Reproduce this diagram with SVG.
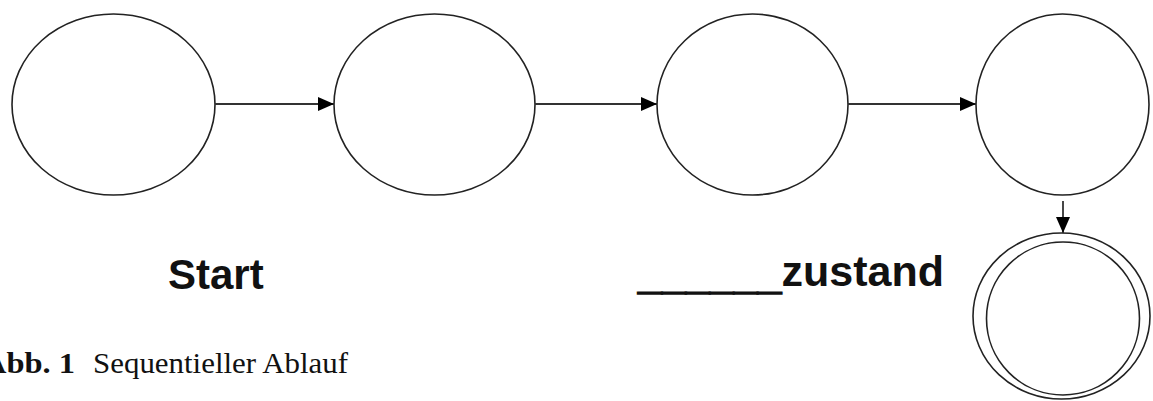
<svg xmlns="http://www.w3.org/2000/svg" width="1153" height="401" viewBox="0 0 1153 401">
<defs>
<style>
.st{fill:#fff;stroke:#222;stroke-width:1.6}
.conn{stroke:#333;stroke-width:1.8;fill:none}
.lbl{font-family:"Liberation Sans",Arial,sans-serif;font-weight:bold;fill:#111}
.cap{font-family:"Liberation Serif","Times New Roman",serif;fill:#111;font-size:30px}
</style>
<marker id="ah" viewBox="0 0 16 14" refX="16" refY="7" markerWidth="16" markerHeight="14" markerUnits="userSpaceOnUse" orient="auto">
<path d="M0,0 L16,7 L0,14 Z" fill="#000"/>
</marker>
</defs>
<rect width="1153" height="401" fill="#fff"/>
<g id="s1"><ellipse class="st" cx="113.5" cy="104.5" rx="101.5" ry="90.5"/></g>
<g id="s2"><ellipse class="st" cx="434.5" cy="104.5" rx="100.5" ry="90.5"/></g>
<g id="s3"><ellipse class="st" cx="752.5" cy="104.5" rx="95.5" ry="90.5"/></g>
<g id="s4"><ellipse class="st" cx="1062.5" cy="104.5" rx="86.5" ry="90.5"/></g>
<g id="final">
<ellipse class="st" cx="1061.5" cy="316" rx="88.5" ry="83"/>
<ellipse class="st" cx="1063" cy="318.5" rx="76.5" ry="76.5"/>
</g>
<g id="connectors">
<line class="conn" x1="215" y1="104" x2="334" y2="104" marker-end="url(#ah)"/>
<line class="conn" x1="535" y1="104" x2="657" y2="104" marker-end="url(#ah)"/>
<line class="conn" x1="848" y1="104" x2="976" y2="104" marker-end="url(#ah)"/>
<line class="conn" x1="1063" y1="201" x2="1063" y2="233" marker-end="url(#ah)"/>
</g>
<g id="labels">
<text class="lbl" x="168" y="289" font-size="42">Start</text>
<text class="lbl" x="638" y="286" font-size="43"><tspan dy="3" stroke="#111" stroke-width="1.6">______</tspan><tspan dy="-3">zustand</tspan></text>
<text class="cap" y="373"><tspan x="-17" font-weight="bold" textLength="92" lengthAdjust="spacingAndGlyphs">Abb. 1</tspan><tspan x="93" textLength="255" lengthAdjust="spacingAndGlyphs">Sequentieller Ablauf</tspan></text>
</g>
</svg>
